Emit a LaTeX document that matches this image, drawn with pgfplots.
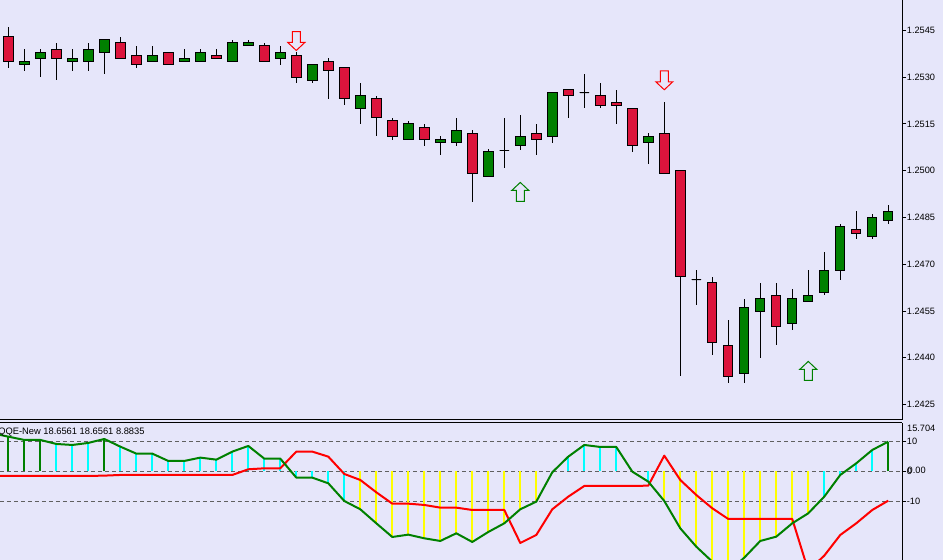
\documentclass[border=0pt]{standalone}
\usepackage{fontspec}
\setmainfont{Liberation Sans}
\usepackage{pgfplots}
\usepackage{pgfplotstable}
\usepgfplotslibrary{statistics}
\pgfplotsset{compat=1.18}

\definecolor{chartbg}{HTML}{E6E6FA}
\definecolor{bull}{HTML}{008000}
\definecolor{bear}{HTML}{DC143C}
\definecolor{dashgrey}{HTML}{606060}
\definecolor{barcyan}{HTML}{00FFFF}
\definecolor{baryellow}{HTML}{FFFF00}
\definecolor{linered}{HTML}{FF0000}

% 1 px of the reference = 0.75pt here
\newcommand{\lab}{\fontsize{6.9pt}{8pt}\selectfont}

% index, low, body bottom, body top, high, colour (prices in pips above 1.2400)
\newcommand{\candle}[6]{%
  \addplot[line width=.75pt,boxplot prepared={draw direction=y,draw position=#1,lower whisker=#2,
    lower quartile=#3,median=#3,upper quartile=#4,upper whisker=#5,
    box extend=0.59,whisker extend=0,
    every box/.style={draw=black,fill=#6},
    every whisker/.style={draw=black},
    every median/.style={draw=none}}] coordinates {};}

\pgfdeclareplotmark{sigdown}{%
  \pgfpathmoveto{\pgfqpoint{-3pt}{7.1pt}}
  \pgfpathlineto{\pgfqpoint{3pt}{7.1pt}}
  \pgfpathlineto{\pgfqpoint{3pt}{-1.1pt}}
  \pgfpathlineto{\pgfqpoint{6.4pt}{-1.1pt}}
  \pgfpathlineto{\pgfqpoint{0pt}{-7.1pt}}
  \pgfpathlineto{\pgfqpoint{-6.4pt}{-1.1pt}}
  \pgfpathlineto{\pgfqpoint{-3pt}{-1.1pt}}
  \pgfpathclose\pgfusepathqfillstroke}
\pgfdeclareplotmark{sigup}{%
  \pgfpathmoveto{\pgfqpoint{-3pt}{-7.1pt}}
  \pgfpathlineto{\pgfqpoint{3pt}{-7.1pt}}
  \pgfpathlineto{\pgfqpoint{3pt}{1.1pt}}
  \pgfpathlineto{\pgfqpoint{6.4pt}{1.1pt}}
  \pgfpathlineto{\pgfqpoint{0pt}{7.1pt}}
  \pgfpathlineto{\pgfqpoint{-6.4pt}{1.1pt}}
  \pgfpathlineto{\pgfqpoint{-3pt}{1.1pt}}
  \pgfpathclose\pgfusepathqfillstroke}

% QQE lines
\pgfplotstableread{
i   qqe     sig
-1  12.66   -1.56
0   11.54   -1.56
1   10.44   -1.56
2   10.44   -1.56
3   9.10    -1.56
4   8.77    -1.56
5   9.44    -1.56
6   10.77   -1.45
7   8.21    -1.23
8   5.88    -1.23
9   5.88    -1.23
10  3.44    -1.23
11  3.44    -1.23
12  4.55    -1.23
13  3.88    -1.23
14  6.55    -1.23
15  8.44    0.66
16  4.21    0.99
17  4.21    0.99
18  -2.12   6.55
19  -2.12   6.55
20  -4.01   4.88
21  -9.90   -0.90
22  -12.67  -2.90
23  -17.34  -7.01
24  -21.90  -10.79
25  -21.12  -10.79
26  -22.34  -11.23
27  -23.23  -12.12
28  -20.67  -12.12
29  -23.56  -12.90
30  -20.23  -12.90
31  -17.34  -12.90
32  -12.67  -23.90
33  -10.12  -21.23
34  -0.34   -12.67
35  4.88    -8.45
36  8.77    -4.90
37  8.10    -4.90
38  8.10    -4.90
39  -0.12   -4.90
40  -3.45   -4.79
41  -9.90   5.21
42  -19.01  -2.90
43  -25.12  -7.90
44  -30.12  -12.34
45  -33.45  -15.90
46  -28.79  -15.90
47  -23.23  -15.90
48  -21.79  -15.90
49  -17.34  -15.90
50  -14.01  -33.12
51  -8.45   -28.12
52  -1.23   -21.23
53  2.66    -17.34
54  7.10    -12.90
55  9.88    -9.79
}\qqetable

\begin{document}
\begin{tikzpicture}[x=1pt,y=1pt]
\fill[chartbg,use as bounding box] (0,0) rectangle (707.25,420);

% price panel
\begin{axis}[
  at={(0pt,105pt)},anchor=south west,
  scale only axis,width=676.7pt,height=315pt,
  xmin=-0.52,xmax=55.875,ymin=20.05,ymax=154.75,
  axis x line*=bottom,axis y line*=right,
  axis line style={line width=.75pt,black},
  xtick=\empty,
  ytick={25,40,55,70,85,100,115,130,145},
  yticklabels={1.2425,1.2440,1.2455,1.2470,1.2485,1.2500,1.2515,1.2530,1.2545},
  tick align=outside,major tick length=3pt,
  tick style={line width=.75pt,black},
  yticklabel style={font=\lab,inner sep=0pt,xshift=.3pt},
]
\candle{0}{133}{135}{143}{146}{bear}
\candle{1}{132}{134}{135}{139}{bull}
\candle{2}{130}{136}{138}{139}{bull}
\candle{3}{129}{136}{139}{141}{bear}
\candle{4}{132}{135}{136}{139}{bull}
\candle{5}{132}{135}{139}{141}{bull}
\candle{6}{131}{138}{142}{142}{bull}
\candle{7}{136}{136}{141}{143}{bear}
\candle{8}{133}{134}{137}{140}{bear}
\candle{9}{135}{135}{137}{140}{bull}
\candle{10}{134}{134}{138}{138}{bear}
\candle{11}{135}{135}{136}{139}{bull}
\candle{12}{135}{135}{138}{139}{bull}
\candle{13}{136}{136}{137}{139}{bear}
\candle{14}{135}{135}{141}{142}{bull}
\candle{15}{140}{140}{141}{142}{bull}
\candle{16}{135}{135}{140}{141}{bear}
\candle{17}{134}{136}{138}{140}{bull}
\candle{18}{128}{130}{137}{138}{bear}
\candle{19}{128}{129}{134}{134}{bull}
\candle{20}{123}{132}{135}{136}{bear}
\candle{21}{121}{123}{133}{133}{bear}
\candle{22}{115}{120}{124}{128}{bull}
\candle{23}{111}{117}{123}{124}{bear}
\candle{24}{110}{111}{116}{117}{bear}
\candle{25}{110}{110}{115}{116}{bull}
\candle{26}{108}{110}{114}{115}{bear}
\candle{27}{105}{109}{110}{111}{bull}
\candle{28}{108}{109}{113}{117}{bull}
\candle{29}{90}{99}{112}{113}{bear}
\candle{30}{98}{98}{106}{107}{bull}
\candle{31}{101}{106.5}{106.5}{117}{black}
\candle{32}{106.5}{108}{111}{118}{bull}
\candle{33}{105}{110}{112}{115}{bear}
\candle{34}{109}{111}{125}{125}{bull}
\candle{35}{117}{124}{126}{126}{bear}
\candle{36}{120}{125}{125}{131}{black}
\candle{37}{120}{121}{124}{128}{bear}
\candle{38}{115}{121}{122}{126}{bear}
\candle{39}{106}{108}{120}{120}{bear}
\candle{40}{102}{109}{111}{112}{bull}
\candle{41}{99}{99}{112}{122}{bear}
\candle{42}{34}{66}{100}{100}{bear}
\candle{43}{57}{65}{65}{68}{black}
\candle{44}{41}{45}{64}{66}{bear}
\candle{45}{32}{34}{44}{52}{bear}
\candle{46}{32}{35}{56}{59}{bull}
\candle{47}{40}{55}{59}{64}{bull}
\candle{48}{44}{50}{60}{64}{bear}
\candle{49}{49}{51}{59}{62}{bull}
\candle{50}{58}{58}{60}{68}{bull}
\candle{51}{60}{61}{68}{74}{bull}
\candle{52}{65}{68}{82}{83}{bull}
\candle{53}{78}{80}{81}{87}{bear}
\candle{54}{78}{79}{85}{86}{bull}
\candle{55}{83}{84}{87}{89}{bull}
\addplot[only marks,mark=sigdown,mark options={draw=linered,fill=chartbg,line width=.75pt}]
  coordinates {(18,141.6) (41,129.0)};
\addplot[only marks,mark=sigup,mark options={draw=bull,fill=chartbg,line width=.75pt}]
  coordinates {(32,93.2) (50,35.8)};
\end{axis}

% QQE panel
\begin{axis}[
  at={(0pt,0pt)},anchor=south west,
  scale only axis,width=676.7pt,height=103pt,
  xmin=-0.52,xmax=55.875,ymin=-29.57,ymax=16.2,
  axis x line*=top,axis y line*=right,
  axis line style={line width=.75pt,black},
  xtick=\empty,
  ytick={-10,0,10},yticklabels={-10,0,10},
  tick align=outside,major tick length=3pt,
  tick style={line width=.75pt,black},
  yticklabel style={font=\lab,inner sep=0pt,xshift=.3pt},
  ymajorgrids,
  grid style={dash pattern=on 3pt off 2.25pt,line width=.75pt,dashgrey},
]
\addplot[ycomb,line width=1.5pt,color=bull] coordinates {
  (0,11.54) (1,10.44) (2,10.44) (6,10.77) (55,9.88)};
\addplot[ycomb,line width=1.5pt,color=barcyan] coordinates {
  (3,9.10) (4,8.77) (5,9.44) (7,8.21) (8,5.88) (9,5.88) (10,3.44) (11,3.44)
  (12,4.55) (13,3.88) (14,6.55) (15,8.44) (16,4.21) (17,4.21) (18,-2.12)
  (19,-2.12) (20,-4.01) (21,-9.90) (35,4.88) (36,8.77) (37,8.10) (38,8.10)
  (40,-3.45) (51,-8.45) (52,-1.23) (53,2.66) (54,7.10)};
\addplot[ycomb,line width=1.5pt,color=baryellow] coordinates {
  (22,-12.67) (23,-17.34) (24,-21.90) (25,-21.12) (26,-22.34) (27,-23.23)
  (28,-20.67) (29,-23.56) (30,-20.23) (31,-17.34) (32,-12.67) (33,-10.12)
  (41,-9.90) (42,-19.01) (43,-25.12) (44,-30.12) (45,-33.45) (46,-28.79)
  (47,-23.23) (48,-21.79) (49,-17.34) (50,-14.01)};
\addplot[line width=1.5pt,color=linered,line join=round] table[x=i,y=sig] {\qqetable};
\addplot[line width=1.5pt,color=bull,line join=round] table[x=i,y=qqe] {\qqetable};
\end{axis}

\node[anchor=base west,inner sep=0pt,font=\fontsize{7pt}{8pt}\selectfont] at (-1.5,93.8) {QQE-New 18.6561 18.6561 8.8835};
\node[anchor=base west,inner sep=0pt,font=\lab] at (680.2,96) {15.704};
\node[anchor=base west,inner sep=0pt,font=\lab] at (680.6,64.6) {0.00};
\end{tikzpicture}
\end{document}
